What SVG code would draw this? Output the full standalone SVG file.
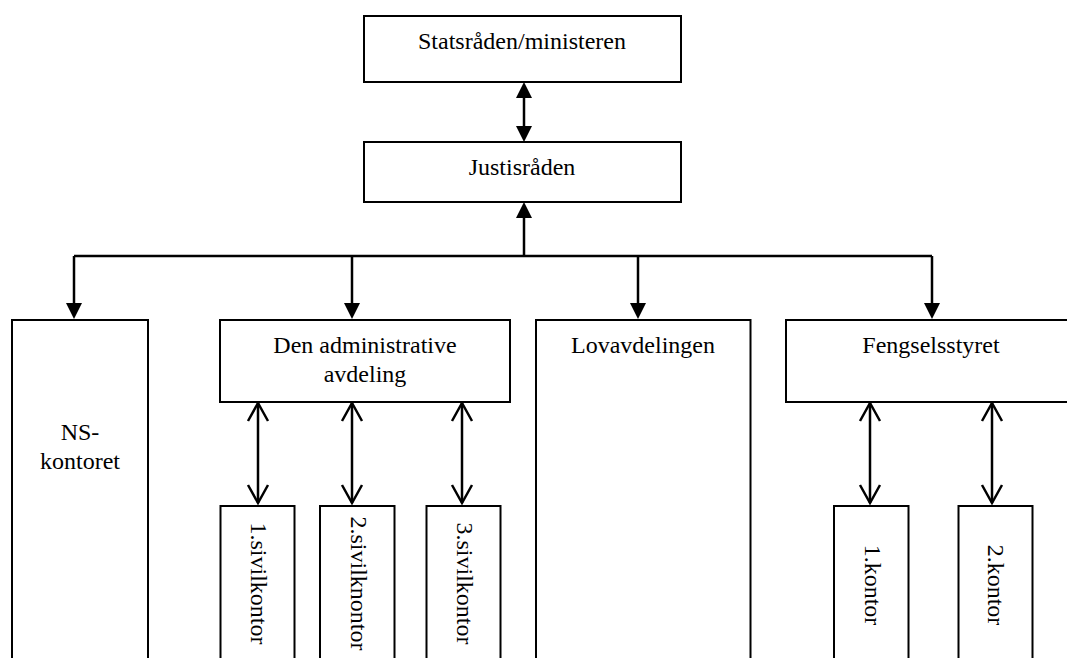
<svg xmlns="http://www.w3.org/2000/svg" width="1067" height="658" viewBox="0 0 1067 658">
<defs>
<style>
.box{fill:#fff;stroke:#000;stroke-width:2}
.lbl{font-family:"Liberation Serif","Times New Roman",serif;font-size:24px;fill:#000;text-anchor:middle}
.ln{fill:none;stroke:#000;stroke-width:2.5}
</style>
<marker id="fa" markerUnits="userSpaceOnUse" markerWidth="16" markerHeight="16" viewBox="0 0 16 16" refX="12" refY="8" orient="auto-start-reverse">
<path d="M0,0 L16,8 L0,16 Z" fill="#000"/>
</marker>
<marker id="oa" markerUnits="userSpaceOnUse" markerWidth="24" markerHeight="26" viewBox="-2 -3 24 26" refX="18" refY="10" orient="auto-start-reverse">
<path d="M0,0 L18,10 L0,20" fill="none" stroke="#000" stroke-width="2.5"/>
</marker>
</defs>
<rect width="1067" height="658" fill="#fff"/>
<g id="connectors">
<line class="ln" x1="524" y1="86" x2="524" y2="138" marker-start="url(#fa)" marker-end="url(#fa)"/>
<path class="ln" d="M74,256 L932,256"/>
<line class="ln" x1="524" y1="256" x2="524" y2="206" marker-end="url(#fa)"/>
<line class="ln" x1="74" y1="256" x2="74" y2="315" marker-end="url(#fa)"/>
<line class="ln" x1="352" y1="256" x2="352" y2="315" marker-end="url(#fa)"/>
<line class="ln" x1="638" y1="256" x2="638" y2="315" marker-end="url(#fa)"/>
<line class="ln" x1="932" y1="256" x2="932" y2="315" marker-end="url(#fa)"/>
<line class="ln" x1="258" y1="403" x2="258" y2="503" marker-start="url(#oa)" marker-end="url(#oa)"/>
<line class="ln" x1="352" y1="403" x2="352" y2="503" marker-start="url(#oa)" marker-end="url(#oa)"/>
<line class="ln" x1="462" y1="403" x2="462" y2="503" marker-start="url(#oa)" marker-end="url(#oa)"/>
<line class="ln" x1="870" y1="403" x2="870" y2="503" marker-start="url(#oa)" marker-end="url(#oa)"/>
<line class="ln" x1="992" y1="403" x2="992" y2="503" marker-start="url(#oa)" marker-end="url(#oa)"/>
</g>
<g id="statsraden">
<rect class="box" x="364" y="16" width="317" height="66"/>
<text class="lbl" x="522" y="49">Statsråden/ministeren</text>
</g>
<g id="justisraden">
<rect class="box" x="364" y="142" width="317" height="60"/>
<text class="lbl" x="522" y="175">Justisråden</text>
</g>
<g id="ns-kontoret">
<rect class="box" x="12" y="320" width="136" height="360"/>
<text class="lbl" x="80" y="440">NS-</text>
<text class="lbl" x="80" y="469">kontoret</text>
</g>
<g id="administrative">
<rect class="box" x="220" y="320" width="290" height="82"/>
<text class="lbl" x="365" y="353">Den administrative</text>
<text class="lbl" x="365" y="382">avdeling</text>
</g>
<g id="sivil1">
<rect class="box" x="220.5" y="506" width="74" height="174"/>
<text class="lbl" transform="translate(250.5,583.5) rotate(90)">1.sivilkontor</text>
</g>
<g id="sivil2">
<rect class="box" x="320" y="506" width="74.5" height="174"/>
<text class="lbl" transform="translate(350.5,583.5) rotate(90)">2.sivilknontor</text>
</g>
<g id="sivil3">
<rect class="box" x="426.5" y="506" width="74" height="174"/>
<text class="lbl" transform="translate(457,583.5) rotate(90)">3.sivilkontor</text>
</g>
<g id="lovavdelingen">
<rect class="box" x="536" y="320" width="214.5" height="360"/>
<text class="lbl" x="643" y="353">Lovavdelingen</text>
</g>
<g id="fengselsstyret">
<rect class="box" x="786" y="320" width="290" height="82"/>
<text class="lbl" x="931" y="353">Fengselsstyret</text>
</g>
<g id="kontor1">
<rect class="box" x="834" y="506" width="74.5" height="174"/>
<text class="lbl" transform="translate(864.5,585) rotate(90)">1.kontor</text>
</g>
<g id="kontor2">
<rect class="box" x="958.5" y="506" width="74" height="174"/>
<text class="lbl" transform="translate(988,585) rotate(90)">2.kontor</text>
</g>
</svg>
